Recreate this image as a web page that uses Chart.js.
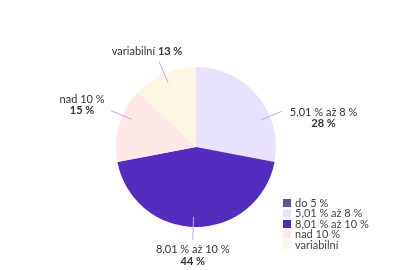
<!DOCTYPE html>
<html>
<head>
<meta charset="utf-8">
<script src="https://cdn.jsdelivr.net/npm/chart.js@4/dist/chart.umd.min.js"></script>
<style>
  html, body { margin: 0; padding: 0; background: #fff; }
  #wrap { width: 400px; height: 270px; }
</style>
</head>
<body>
<div id="wrap"><canvas id="myChart" width="400" height="270"></canvas></div>
<script>
const categories = ["do 5 %", "5,01 % až 8 %", "8,01 % až 10 %", "nad 10 %", "variabilní"];
const shares = [0, 28, 44, 15, 13];
const valueLabels = ["0 %", "28 %", "44 %", "15 %", "13 %"];
const colors = ["#5e5790", "#e9e2fd", "#532bbf", "#fde8e5", "#fef6e3"];

const FONT = "Lato, 'Open Sans', sans-serif";
const TEXT = "#333333";

// small angle nudges (degrees) so labels sit like in the original
const labelNudge = [0, 17, 2, 7, 0];

const outsideLabels = {
  id: "outsideLabels",
  afterDatasetsDraw(chart) {
    const ctx = chart.ctx;
    const arcs = chart.getDatasetMeta(0).data;
    ctx.save();
    ctx.textBaseline = "middle";
    arcs.forEach((arc, i) => {
      if (!shares[i]) return;
      const r = arc.outerRadius;
      const a = (arc.startAngle + arc.endAngle) / 2 + labelNudge[i] * Math.PI / 180;
      const c = Math.cos(a), s = Math.sin(a);
      const x1 = arc.x + (r - 10) * c, y1 = arc.y + (r - 10) * s;
      const x2 = arc.x + (r + 13) * c, y2 = arc.y + (r + 13) * s;
      ctx.strokeStyle = "#b9aee6";
      ctx.lineWidth = 1;
      ctx.beginPath();
      ctx.moveTo(x1, y1);
      ctx.lineTo(x2, y2);
      ctx.stroke();

      const name = categories[i];
      const val = valueLabels[i];
      ctx.fillStyle = TEXT;
      if (s < -0.8) {
        // top: single line "name value"
        ctx.font = "11px " + FONT;
        const w1 = ctx.measureText(name + " ").width;
        ctx.font = "bold 11px " + FONT;
        const w2 = ctx.measureText(val).width;
        const left = x2 - (w1 + w2) / 2 - 12;
        const y = y2 - 10;
        ctx.textAlign = "left";
        ctx.font = "11px " + FONT;
        ctx.fillText(name + " ", left, y);
        ctx.font = "bold 11px " + FONT;
        ctx.fillText(val, left + w1, y);
        return;
      }
      ctx.font = "11px " + FONT;
      const w = ctx.measureText(name).width;
      let cx, ty;
      if (c > 0.3) { cx = x2 + 8 + w / 2; ty = y2 + 1; }
      else if (c < -0.3) { cx = x2 - 6 - w / 2; ty = y2 - 11; }
      else { cx = x2; ty = y2 + 10; }
      ctx.textAlign = "center";
      ctx.fillText(name, cx, ty);
      ctx.font = "bold 11px " + FONT;
      ctx.fillText(val, cx, ty + 11.5);
    });
    ctx.restore();
  }
};

const boxLegend = {
  id: "boxLegend",
  afterDraw(chart) {
    const ctx = chart.ctx;
    ctx.save();
    ctx.font = "11px " + FONT;
    ctx.textBaseline = "middle";
    ctx.textAlign = "left";
    categories.forEach((label, i) => {
      const y = 203 + i * 10.5;
      ctx.fillStyle = colors[i];
      ctx.fillRect(283, y - 4, 8, 8);
      ctx.fillStyle = "#444";
      ctx.fillText(label, 295, y);
    });
    ctx.restore();
  }
};

new Chart(document.getElementById("myChart").getContext("2d"), {
  type: "pie",
  data: {
    labels: categories,
    datasets: [{
      data: shares,
      backgroundColor: colors,
      borderWidth: 0
    }]
  },
  options: {
    responsive: false,
    animation: false,
    layout: { padding: { top: 67, bottom: 43, left: 116, right: 124 } },
    plugins: {
      legend: { display: false },
      tooltip: { enabled: false }
    }
  },
  plugins: [outsideLabels, boxLegend]
});
</script>
</body>
</html>
